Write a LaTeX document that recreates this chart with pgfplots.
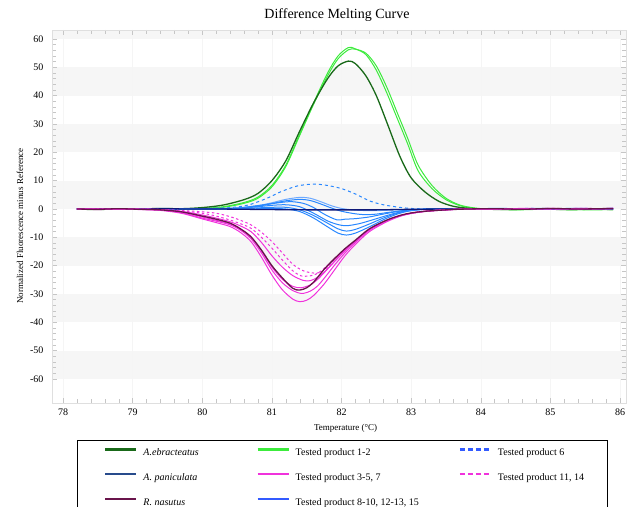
\documentclass[border=0pt]{standalone}
\usepackage{fontspec}
\setmainfont{Liberation Serif}
\usepackage{pgfplots}
\pgfplotsset{compat=1.18}
\definecolor{dkgreen}{RGB}{25,105,25}
\definecolor{ltgreen}{RGB}{60,235,60}
\definecolor{navy}{RGB}{15,25,120}
\definecolor{navyleg}{RGB}{40,75,140}
\definecolor{mag}{RGB}{240,50,220}
\definecolor{purp}{RGB}{105,20,75}
\definecolor{blu}{RGB}{40,135,255}
\definecolor{blulight}{RGB}{110,170,255}
\definecolor{bluleg}{RGB}{50,90,255}
\definecolor{band}{RGB}{246,246,246}
\begin{document}
\begin{tikzpicture}
\node[font=\fontsize{14}{16}\selectfont] at (285pt,388pt) {Difference Melting Curve};
\begin{axis}[
  set layers,
  scale only axis, width=574pt, height=373pt,
  xmin=77.842, xmax=86.086, ymin=-68.47, ymax=63.18,
  xtick={78,79,80,81,82,83,84,85,86},
  ytick={-60,-50,-40,-30,-20,-10,0,10,20,30,40,50,60},
  minor x tick num=4, minor y tick num=4,
  tick align=inside,
  major tick length=5pt, minor tick length=4pt,
  every tick/.style={gray!45},
  axis line style={gray!25},
  xmajorgrids, major grid style={gray!8},
  /pgf/number format/assume math mode=true,
  ticklabel style={font=\fontsize{10}{12}\selectfont},
  yticklabel style={xshift=-5pt},
  xticklabel style={yshift=-2pt},
  xlabel={Temperature (°C)},
  ylabel={Normalized Fluorescence minus Reference},
  xlabel style={at={(axis description cs:0.5115,-0.067)}, anchor=center, font=\fontsize{9}{11}\selectfont},
  ylabel style={at={(axis description cs:-0.0557,0.4745)}, anchor=center, font=\fontsize{9}{11}\selectfont},
  every axis plot/.append style={line width=1pt, smooth, tension=0.5},
  legend columns=3,
  legend cell align=left,
  legend image code/.code={\draw[#1,line width=2.2pt] (0pt,3.5pt) -- (31pt,3.5pt);},
  legend style={at={(axis description cs:0.04355,-0.0992)}, anchor=north west,
    draw=black, line width=0.6pt, inner xsep=27pt, inner ysep=8pt,
    font=\fontsize{10}{12}\selectfont, nodes={inner sep=0pt}, row sep=16pt,
    /tikz/every odd column/.append style={column sep=6pt},
    /tikz/every even column/.append style={column sep=5pt}},
]
\begin{pgfonlayer}{axis background}
\fill[band] (axis cs:77.842,60) rectangle (axis cs:86.086,63.18);
\fill[band] (axis cs:77.842,40) rectangle (axis cs:86.086,50);
\fill[band] (axis cs:77.842,20) rectangle (axis cs:86.086,30);
\fill[band] (axis cs:77.842,0) rectangle (axis cs:86.086,10);
\fill[band] (axis cs:77.842,-10) rectangle (axis cs:86.086,-20);
\fill[band] (axis cs:77.842,-30) rectangle (axis cs:86.086,-40);
\fill[band] (axis cs:77.842,-50) rectangle (axis cs:86.086,-60);
\end{pgfonlayer}

% Tested product 1-2 (green)
\addplot[ltgreen, forget plot] coordinates {(78.2,0.1)(78.5,-0.1)(78.8,0)(79.1,0.1)(79.4,-0.1)(79.7,0)(80.0,0.2)(80.3,0.8)(80.6,2.3)(80.8,4.2)(81.0,8.3)(81.2,15.5)(81.4,26.5)(81.6,37.5)(81.8,48)(81.95,54)(82.1,57)(82.2,56.5)(82.35,54.5)(82.5,49)(82.65,41)(82.8,32)(82.95,23)(83.1,13.5)(83.3,7.2)(83.5,3.3)(83.7,1.2)(83.9,0.3)(84.1,0)(84.5,-0.2)(84.9,0)(85.3,-0.3)(85.6,-0.1)(85.9,-0.2)};
\addplot[ltgreen, forget plot] coordinates {(78.2,0)(78.5,0.1)(78.8,-0.1)(79.1,0)(79.4,0.1)(79.7,0)(80.0,0.1)(80.3,0.6)(80.6,2)(80.8,3.8)(81.0,7.8)(81.2,15)(81.4,26)(81.6,37)(81.8,47)(81.95,53)(82.1,56.2)(82.2,56.4)(82.35,55)(82.5,50.5)(82.65,43)(82.8,34)(82.95,25)(83.1,15.5)(83.3,8.3)(83.5,3.8)(83.7,1.4)(83.9,0.4)(84.1,0)(84.5,-0.3)(84.9,-0.1)(85.3,-0.2)(85.6,-0.3)(85.9,-0.2)};
% A. ebracteatus
\addplot[dkgreen, line width=1.3pt, forget plot] coordinates {(78.2,0)(78.5,-0.2)(78.8,0.1)(79.1,0)(79.4,0.2)(79.7,0.1)(80.0,0.5)(80.3,1.4)(80.6,3.3)(80.8,5.5)(81.0,10)(81.2,17)(81.4,27.5)(81.6,37.5)(81.8,46)(81.95,50.5)(82.1,52.2)(82.2,51.3)(82.35,47)(82.5,40)(82.66,30)(82.84,18.5)(83.0,11)(83.2,6)(83.4,2.7)(83.6,1)(83.8,0.3)(84.0,0)(84.4,-0.2)(84.8,0.1)(85.2,-0.2)(85.6,0)(85.9,-0.2)};

% Tested product 6 (blue dashed)
\addplot[blu, dash pattern=on 3pt off 3pt, forget plot] coordinates {(78.2,0)(78.5,0.1)(78.8,-0.1)(79.1,0.1)(79.4,0)(79.7,0.1)(80.0,0.1)(80.4,0.5)(80.66,1.4)(80.93,3.8)(81.12,6)(81.36,8.1)(81.6,8.8)(81.8,8.3)(82.0,7.2)(82.2,5.3)(82.41,2.8)(82.6,1.5)(82.8,0.7)(83.0,0.2)(83.3,0)(83.7,0.1)(84.2,0)(84.7,0.2)(85.2,0)(85.6,0.1)(85.9,0)};
% Tested product 8-10, 12-13, 15 (blue)
\addplot[blulight, forget plot] coordinates {(78.2,0)(78.6,0.1)(79.0,0)(79.4,0.2)(79.8,0.1)(80.2,0.2)(80.5,0.4)(80.8,1.2)(81.0,2.2)(81.2,3.4)(81.4,4.1)(81.55,3.8)(81.7,2.6)(81.85,1.2)(82.0,0.2)(82.2,-0.4)(82.45,-0.6)(82.7,-0.4)(83.0,-0.1)(83.4,0)(83.8,0.1)(84.3,0)(84.8,0.2)(85.3,0.1)(85.9,0.2)};
\addplot[blu, forget plot] coordinates {(78.2,0.1)(78.6,0)(79.0,0.1)(79.4,0)(79.8,0.1)(80.2,0.1)(80.5,0.3)(80.8,1)(81.0,1.9)(81.2,2.9)(81.4,3.4)(81.55,3)(81.7,1.8)(81.85,0.4)(82.0,-0.8)(82.2,-1.7)(82.35,-2)(82.5,-1.8)(82.7,-1.1)(83.0,-0.3)(83.3,0)(83.8,0.1)(84.3,0.2)(84.8,0)(85.3,0.2)(85.9,0.1)};
\addplot[blu, forget plot] coordinates {(78.2,0)(78.6,0.1)(79.0,-0.1)(79.4,0.1)(79.8,0)(80.2,0.1)(80.5,0.3)(80.8,1.2)(81.0,1.9)(81.26,2.6)(81.45,2)(81.6,0.5)(81.75,-1.8)(81.93,-3.8)(82.05,-3.6)(82.2,-3.4)(82.4,-2.8)(82.6,-1.8)(82.8,-0.9)(83.0,-0.3)(83.3,0)(83.8,0.1)(84.3,0)(84.8,0.1)(85.3,0)(85.9,0.1)};
\addplot[blu, forget plot] coordinates {(78.2,0)(78.6,0)(79.0,0.1)(79.4,0)(79.8,0.1)(80.2,0)(80.5,0.2)(80.8,0.8)(81.0,1.3)(81.2,1.5)(81.4,0.8)(81.6,-1.5)(81.8,-4.2)(81.95,-5.5)(82.07,-5.9)(82.25,-5.2)(82.45,-3.8)(82.65,-2.3)(82.85,-1)(83.05,-0.3)(83.3,0)(83.8,0)(84.3,0.1)(84.8,0)(85.3,0.1)(85.9,0)};
\addplot[blu, forget plot] coordinates {(78.2,0.1)(78.6,0)(79.0,0)(79.4,0.1)(79.8,0)(80.2,0)(80.5,0.1)(80.8,0.4)(81.0,0.6)(81.2,0.6)(81.4,-0.3)(81.6,-2.3)(81.8,-5)(81.95,-7)(82.07,-7.8)(82.2,-7.2)(82.4,-5.3)(82.6,-3.2)(82.8,-1.5)(83.0,-0.5)(83.3,0)(83.8,0.1)(84.3,0)(84.8,0.1)(85.3,0)(85.9,0.2)};
\addplot[blu, forget plot] coordinates {(78.2,0)(78.6,0.1)(79.0,0)(79.4,0)(79.8,0.1)(80.2,0)(80.5,0)(80.8,0.1)(81.0,0.2)(81.2,0)(81.4,-0.9)(81.6,-3.2)(81.8,-6.3)(81.95,-8.5)(82.07,-9.2)(82.2,-8.5)(82.4,-6.3)(82.6,-3.8)(82.8,-1.8)(83.0,-0.6)(83.3,0)(83.8,0)(84.3,0.1)(84.8,0)(85.3,0.1)(85.9,0.1)};
% A. paniculata
\addplot[navy, line width=1.3pt, forget plot] coordinates {(78.2,0)(78.6,0.1)(79.0,-0.1)(79.4,0.1)(79.8,0)(80.2,0)(80.6,-0.1)(81.0,-0.2)(81.5,-0.3)(82.0,-0.3)(82.5,-0.3)(83.0,-0.1)(83.5,0)(84.0,0.1)(84.5,0)(85.0,0.1)(85.5,0)(85.9,0.1)};

% Tested product 11, 14 (magenta dashed)
\addplot[mag, dash pattern=on 2.5pt off 2.5pt, forget plot] coordinates {(78.2,0)(78.5,0.1)(78.8,-0.1)(79.1,0)(79.4,-0.2)(79.7,-0.5)(80.0,-1.0)(80.2,-1.5)(80.4,-2.7)(80.55,-4)(80.7,-5.6)(80.85,-8.2)(81.0,-11.5)(81.15,-15.5)(81.3,-19.5)(81.45,-21.8)(81.6,-22.6)(81.7,-22.3)(81.8,-20.5)(81.95,-16.5)(82.1,-13.3)(82.25,-10.3)(82.4,-7.3)(82.65,-4.1)(82.85,-2.3)(83.0,-1.5)(83.2,-0.8)(83.5,-0.3)(83.8,0)(84.2,0.1)(84.6,0)(85.0,0.2)(85.4,0.1)(85.9,0.2)};
\addplot[mag, dash pattern=on 2.5pt off 2.5pt, forget plot] coordinates {(78.2,0.1)(78.5,0)(78.8,0)(79.1,-0.1)(79.4,-0.3)(79.7,-0.7)(80.0,-1.5)(80.2,-2.5)(80.4,-3.9)(80.55,-5.2)(80.7,-6.8)(80.85,-10)(81.0,-13.8)(81.15,-18)(81.3,-21.8)(81.42,-23.6)(81.55,-23.6)(81.65,-22.8)(81.75,-21)(81.9,-17.5)(82.05,-14.3)(82.2,-11.2)(82.4,-7.4)(82.65,-4.1)(82.85,-2.3)(83.0,-1.5)(83.2,-0.8)(83.5,-0.3)(83.8,0)(84.2,0)(84.6,0.1)(85.0,0)(85.4,0.2)(85.9,0.1)};
% Tested product 3-5, 7 (magenta)
\addplot[mag, forget plot] coordinates {(78.2,0)(78.5,-0.2)(78.8,0)(79.1,-0.2)(79.4,-0.5)(79.7,-1.5)(80.0,-3.5)(80.2,-4.8)(80.4,-6.2)(80.55,-8.3)(80.7,-11.5)(80.85,-17)(81.0,-23.3)(81.15,-28.5)(81.3,-31.8)(81.4,-32.7)(81.5,-32.2)(81.6,-30.5)(81.75,-26.5)(81.9,-21.5)(82.05,-16.5)(82.2,-12.5)(82.4,-8)(82.65,-4.5)(82.85,-2.5)(83.0,-1.6)(83.2,-0.9)(83.5,-0.3)(83.8,0)(84.2,-0.1)(84.6,0.1)(85.0,0)(85.4,0.2)(85.9,0.1)};
\addplot[mag, forget plot] coordinates {(78.2,0)(78.5,0)(78.8,-0.1)(79.1,-0.1)(79.4,-0.4)(79.7,-1.3)(80.0,-3.2)(80.2,-4.3)(80.4,-5.6)(80.55,-7.5)(80.7,-10.5)(80.85,-15.5)(81.0,-21.5)(81.15,-26)(81.3,-28.8)(81.43,-29.8)(81.55,-29)(81.65,-27.3)(81.75,-24.5)(81.9,-19.8)(82.05,-15.5)(82.2,-11.8)(82.4,-7.5)(82.65,-4.2)(82.85,-2.4)(83.0,-1.5)(83.2,-0.8)(83.5,-0.3)(83.8,0)(84.2,0.1)(84.6,0)(85.0,0.1)(85.4,0)(85.9,0.2)};
\addplot[mag, forget plot] coordinates {(78.2,0.1)(78.5,0)(78.8,0)(79.1,0)(79.4,-0.2)(79.7,-0.8)(80.0,-2.1)(80.2,-3.2)(80.4,-4.5)(80.55,-6)(80.7,-8)(80.85,-11.8)(81.0,-16.5)(81.15,-20.5)(81.3,-23.5)(81.45,-25.2)(81.55,-25.3)(81.65,-24.2)(81.75,-22.3)(81.9,-18.5)(82.05,-14.8)(82.2,-11.3)(82.4,-7.2)(82.65,-4)(82.85,-2.3)(83.0,-1.4)(83.2,-0.8)(83.5,-0.2)(83.8,0)(84.2,0)(84.6,0.2)(85.0,0.1)(85.4,0.1)(85.9,0.2)};
\addplot[mag, forget plot] coordinates {(78.2,0)(78.5,-0.1)(78.8,0.1)(79.1,-0.1)(79.4,-0.3)(79.7,-1)(80.0,-2.8)(80.2,-4)(80.4,-5.3)(80.55,-7.2)(80.7,-10)(80.85,-14.8)(81.0,-20.5)(81.15,-24.8)(81.3,-27.3)(81.42,-27.8)(81.55,-26.8)(81.65,-25)(81.75,-22.5)(81.9,-18.5)(82.05,-14.6)(82.2,-11.4)(82.4,-7.3)(82.65,-4.1)(82.85,-2.3)(83.0,-1.5)(83.2,-0.8)(83.5,-0.3)(83.8,0)(84.2,0.1)(84.6,0)(85.0,0.2)(85.4,0)(85.9,0.1)};
% R. nasutus
\addplot[purp, line width=1.3pt, forget plot] coordinates {(78.2,0)(78.5,-0.1)(78.8,0.1)(79.1,-0.1)(79.4,-0.3)(79.7,-1)(80.0,-2.5)(80.2,-3.6)(80.4,-5)(80.55,-7)(80.7,-9.8)(80.85,-14.5)(81.0,-20)(81.15,-24.3)(81.3,-28)(81.4,-28.6)(81.5,-27.8)(81.6,-25.8)(81.75,-21.3)(81.9,-17.5)(82.05,-14)(82.2,-11)(82.4,-7)(82.65,-3.9)(82.85,-2.2)(83.0,-1.4)(83.2,-0.8)(83.5,-0.3)(83.8,0)(84.2,0.1)(84.6,-0.1)(85.0,0.2)(85.4,0)(85.9,0.2)};

% Legend
\addlegendimage{dkgreen}
\addlegendentry{\makebox[108pt][l]{\textit{A.ebracteatus}}}
\addlegendimage{ltgreen}
\addlegendentry{\makebox[158pt][l]{Tested product 1-2}}
\addlegendimage{bluleg, dash pattern=on 5pt off 3pt}
\addlegendentry{\makebox[82pt][l]{Tested product 6}}
\addlegendimage{navyleg}
\addlegendentry{\makebox[108pt][l]{\textit{A. paniculata}}}
\addlegendimage{mag}
\addlegendentry{\makebox[158pt][l]{Tested product 3-5, 7}}
\addlegendimage{mag, dash pattern=on 5pt off 3pt}
\addlegendentry{\makebox[82pt][l]{Tested product 11, 14}}
\addlegendimage{purp}
\addlegendentry{\makebox[108pt][l]{\textit{R. nasutus}}}
\addlegendimage{bluleg}
\addlegendentry{\makebox[158pt][l]{Tested product 8-10, 12-13, 15}}
\end{axis}
\pgfresetboundingbox
\path[use as bounding box] (-52pt,-103pt) rectangle (576pt,403pt);
\end{tikzpicture}
\end{document}
